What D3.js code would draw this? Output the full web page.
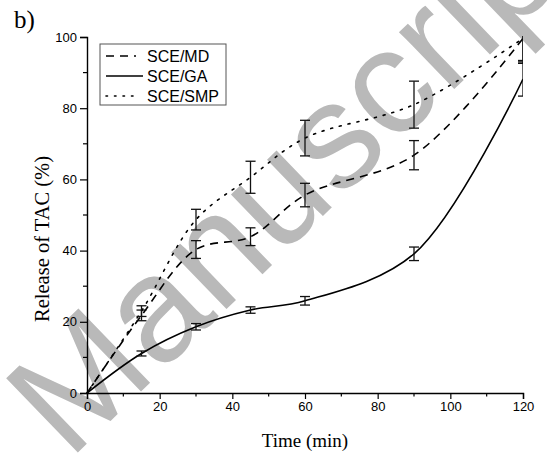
<!DOCTYPE html>
<html>
<head>
<meta charset="utf-8">
<script src="https://cdn.jsdelivr.net/npm/d3@7"></script>
<style>
  html, body { margin: 0; padding: 0; background: #fff; }
  svg { display: block; }
</style>
</head>
<body>
<svg id="chart" width="548" height="461"></svg>
<script>
// Release of TAC over time for three microcapsule wall materials
const time = [0, 15, 30, 45, 60, 90, 120];

const seriesNames = ["SCE/MD", "SCE/GA", "SCE/SMP"];
const mdRelease  = [0, 21.8, 40.3, 43.9, 55.6, 66.8, 99.6];
const mdError    = [0, 1.5, 2.5, 2.5, 3.3, 4.1, 6.2];
const gaRelease  = [0, 11.1, 18.6, 23.3, 25.9, 39.1, 88.2];
const gaError    = [0, 0.7, 0.9, 0.9, 1.2, 1.9, 4.8];
const smpRelease = [0, 23.0, 48.7, 60.6, 71.6, 81.0, 99.6];
const smpError   = [0, 1.5, 2.9, 4.5, 5.0, 6.6, 7.0];

const xTicks = [0, 20, 40, 60, 80, 100, 120];
const yTicks = [0, 20, 40, 60, 80, 100];

const svg = d3.select("#chart");
const margin = { left: 87, right: 25, top: 37, bottom: 68 };
const W = 548, H = 461;

const x = d3.scaleLinear().domain([0, 120]).range([margin.left, W - margin.right]);
const y = d3.scaleLinear().domain([0, 100]).range([H - margin.bottom, margin.top]);

// Watermark behind the plot
svg.append("text")
  .attr("transform", "translate(69,461) rotate(-44)")
  .attr("font-family", "Liberation Sans, Arial, sans-serif")
  .attr("font-size", 150)
  .attr("fill", "#b9b9b9")
  .text("Manuscript");

// Clip region for curves and error bars
svg.append("clipPath").attr("id", "plotClip")
  .append("rect")
  .attr("x", x(0) - 2).attr("y", y(100) - 1)
  .attr("width", x(120) - x(0) + 2).attr("height", y(0) - y(100) + 3);

const series = [
  { name: seriesNames[0], values: mdRelease,  errors: mdError,  dash: "8,6" },
  { name: seriesNames[1], values: gaRelease,  errors: gaError,  dash: null },
  { name: seriesNames[2], values: smpRelease, errors: smpError, dash: "2,7" }
];

const line = d3.line()
  .x((d, i) => x(time[i]))
  .y(d => y(d))
  .curve(d3.curveCatmullRom.alpha(0.5));

const plot = svg.append("g").attr("clip-path", "url(#plotClip)");

series.forEach(s => {
  plot.append("path")
    .datum(s.values)
    .attr("d", line)
    .attr("fill", "none")
    .attr("stroke", "#000")
    .attr("stroke-width", 1.6)
    .attr("stroke-linecap", s.dash === "2,7" ? "round" : "butt")
    .attr("stroke-dasharray", s.dash);

  const bars = plot.append("g")
    .attr("stroke", "#111")
    .attr("stroke-width", 1.3);
  time.forEach((t, i) => {
    const e = s.errors[i];
    if (!e) return;
    const cx = x(t), lo = y(s.values[i] - e), hi = y(s.values[i] + e);
    bars.append("line").attr("x1", cx).attr("x2", cx).attr("y1", lo).attr("y2", hi);
    bars.append("line").attr("x1", cx - 5).attr("x2", cx + 5).attr("y1", lo).attr("y2", lo);
    bars.append("line").attr("x1", cx - 5).attr("x2", cx + 5).attr("y1", hi).attr("y2", hi);
  });
});

// Axes
const xAxis = d3.axisBottom(x).tickValues(xTicks).tickSize(6).tickPadding(3);
const yAxis = d3.axisLeft(y).tickValues(yTicks).tickSize(7).tickPadding(3);

const gx = svg.append("g").attr("transform", `translate(0,${y(0)})`).call(xAxis);
const gy = svg.append("g").attr("transform", `translate(${x(0)},0)`).call(yAxis);

// Minor ticks
const xMinor = d3.range(10, 120, 20);
const yMinor = d3.range(10, 100, 20);
gx.selectAll(".minor").data(xMinor).enter().append("line")
  .attr("x1", d => x(d)).attr("x2", d => x(d)).attr("y1", 0).attr("y2", 3.5)
  .attr("stroke", "#000").attr("stroke-width", 1.2);
gy.selectAll(".minor").data(yMinor).enter().append("line")
  .attr("y1", d => y(d)).attr("y2", d => y(d)).attr("x1", 0).attr("x2", -4)
  .attr("stroke", "#000").attr("stroke-width", 1.2);

[gx, gy].forEach(g => {
  g.select(".domain").attr("stroke", "#000").attr("stroke-width", 1.4);
  g.selectAll(".tick line").attr("stroke", "#000").attr("stroke-width", 1.2);
  g.selectAll(".tick text")
    .attr("font-family", "Liberation Sans, Arial, sans-serif")
    .attr("font-size", 13)
    .attr("fill", "#000");
});

// Axis titles
svg.append("text")
  .attr("x", (x(0) + x(120)) / 2).attr("y", 447)
  .attr("text-anchor", "middle")
  .attr("font-family", "Liberation Serif, Times New Roman, serif")
  .attr("font-size", 19)
  .text("Time (min)");

svg.append("text")
  .attr("transform", "translate(49,239) rotate(-90)")
  .attr("text-anchor", "middle")
  .attr("font-family", "Liberation Serif, Times New Roman, serif")
  .attr("font-size", 20.5)
  .text("Release of TAC (%)");

// Panel label
svg.append("text")
  .attr("x", 14).attr("y", 28)
  .attr("font-family", "Liberation Serif, Times New Roman, serif")
  .attr("font-size", 25)
  .text("b)");

// Legend
const legend = svg.append("g").attr("transform", "translate(100,44)");
legend.append("rect")
  .attr("width", 126).attr("height", 61)
  .attr("fill", "#fff").attr("stroke", "#555").attr("stroke-width", 1);
series.forEach((s, i) => {
  const ly = 12 + i * 20;
  legend.append("line")
    .attr("x1", 6).attr("x2", s.dash ? 36 : 43)
    .attr("y1", ly).attr("y2", ly)
    .attr("stroke", "#000").attr("stroke-width", 1.6)
    .attr("stroke-linecap", s.dash === "2,7" ? "round" : "butt")
    .attr("stroke-dasharray", s.dash === "2,7" ? "1.5,7" : s.dash);
  legend.append("text")
    .attr("x", 47).attr("y", ly + 5.5)
    .attr("font-family", "Liberation Sans, Arial, sans-serif")
    .attr("font-size", 16)
    .text(s.name);
});
</script>
</body>
</html>
